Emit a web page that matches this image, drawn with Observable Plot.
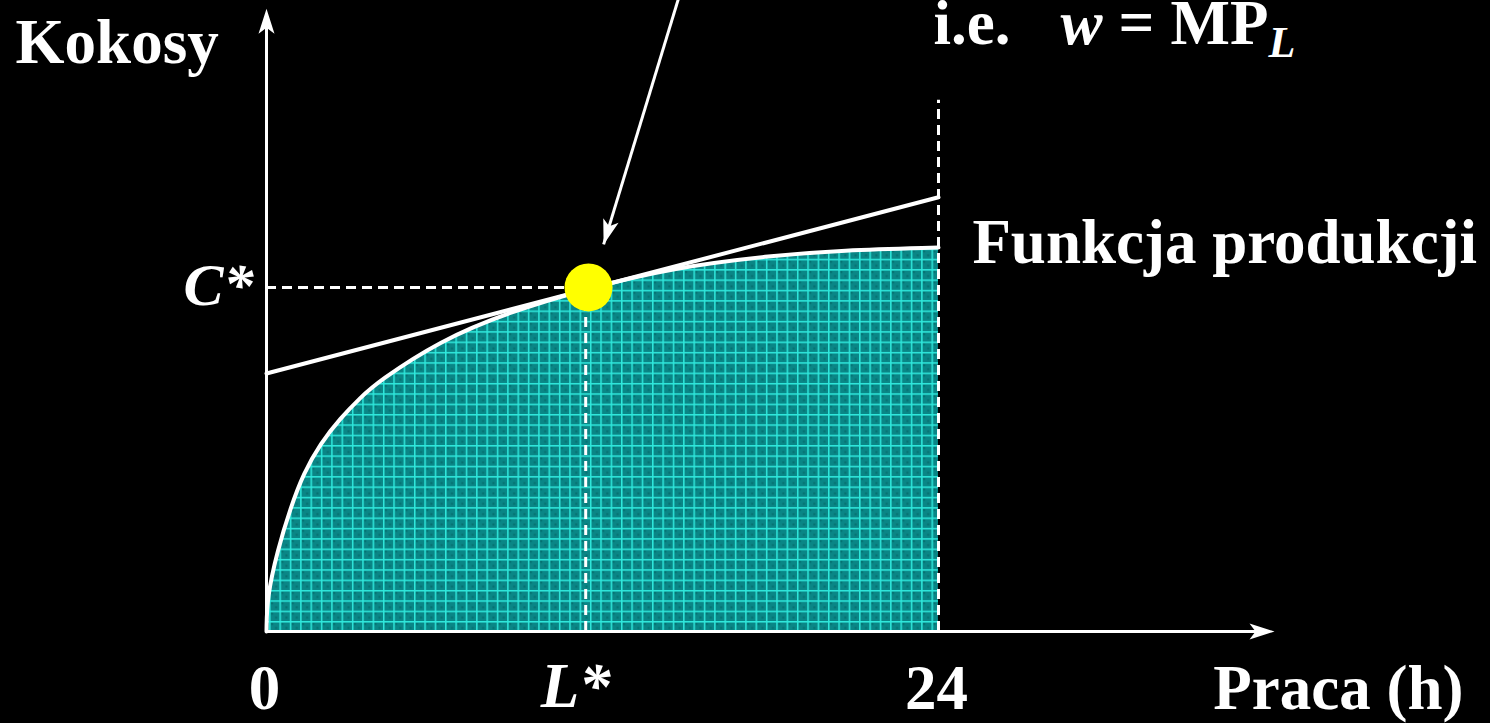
<!DOCTYPE html>
<html>
<head>
<meta charset="utf-8">
<script src="https://cdn.jsdelivr.net/npm/d3@7"></script>
<script src="https://cdn.jsdelivr.net/npm/@observablehq/plot@0.6"></script>
<style>
  html, body { margin: 0; padding: 0; background: #000; }
  #chart svg { display: block; }
</style>
</head>
<body>
<div id="chart"></div>
<script>
// ---- Data ----
const laborHours = [0, 0.02, 0.39, 0.86, 1.32, 1.93, 2.64, 3.36, 3.96, 6.21, 8.61, 11.46, 14.54, 18.11, 20.5, 24];
const coconuts   = [0, 1.00, 2.35, 3.60, 4.59, 5.47, 6.20, 6.80, 7.25, 8.46, 9.27, 9.97, 10.58, 10.93, 11.08, 11.16];
const tangentX = [0, 24];
const tangentY = [7.5, 12.62];
const Lstar = 11.4;
const Cstar = 10;
const maxHours = 24;
const dayLineTop = 15.44;
const xAxisEnd = 36;
const yAxisEnd = 18.1;
const pointerFrom = [14.79, 18.6];
const pointerTo = [12.04, 11.25];

// labels: text, x, y (data units)
const uprightStart = [["Kokosy", -8.96, 16.51], ["i.e.", 23.82, 17.08], ["=", 30.43, 17.08], ["MP", 32.29, 17.08], ["Funkcja produkcji", 25.21, 10.70]];
const uprightMiddle = [["0", -0.07, -2.24], ["24", 23.93, -2.24]];
const uprightEnd = [["Praca (h)", 42.75, -2.24]];
const italicStart = [["w", 28.36, 17.08]];
const italicSub = [["L", 35.79, 16.70]];
const italicEnd = [["C*", -0.46, 9.48]];
const italicMiddle = [["L*", 11.04, -2.18]];

// ---- Build ----
const W = 1490, H = 723;
const mL = 266, mR = 216, mT = 0, mB = 92;
const yTop = 18.34;
const pxX = (W - mL - mR) / xAxisEnd;
const pxY = (H - mT - mB) / yTop;

const curve = laborHours.map((x, i) => ({x, y: coconuts[i]}));
const tangent = tangentX.map((x, i) => ({x, y: tangentY[i]}));
const toObj = arr => arr.map(([t, x, y]) => ({t, x, y}));

const arrowHead = {
  draw(ctx) {
    ctx.moveTo(0, 0);
    ctx.lineTo(8, 25);
    ctx.lineTo(0, 19);
    ctx.lineTo(-8, 25);
    ctx.closePath();
  }
};
const pointerAngle = Math.atan2((pointerTo[0] - pointerFrom[0]) * pxX, -((pointerFrom[1] - pointerTo[1]) * pxY)) * 180 / Math.PI;

const serif = "'Liberation Serif', 'Times New Roman', serif";
const txt = (data, anchor, italic, size) => Plot.text(toObj(data), {
  x: "x", y: "y", text: "t", textAnchor: anchor, lineAnchor: "bottom",
  fill: "white", fontFamily: serif, fontWeight: "bold",
  fontStyle: italic ? "italic" : "normal", fontSize: size
});

const plot = Plot.plot({
  width: W, height: H,
  marginLeft: mL, marginRight: mR, marginTop: mT, marginBottom: mB,
  x: {domain: [0, xAxisEnd], axis: null},
  y: {domain: [0, yTop], axis: null},
  style: {background: "#000", color: "white", overflow: "visible"},
  marks: [
    Plot.areaY(curve, {x: "x", y: "y", fill: "url(#tealgrid)", curve: "basis"}),
    Plot.ruleY([Cstar], {x1: 0, x2: Lstar, stroke: "white", strokeWidth: 3, strokeDasharray: "10,6"}),
    Plot.ruleX([Lstar], {y1: 0, y2: Cstar, stroke: "white", strokeWidth: 3, strokeDasharray: "10,6"}),
    Plot.ruleX([maxHours], {y1: 0, y2: dayLineTop, stroke: "white", strokeWidth: 3, strokeDasharray: "10,6"}),
    Plot.line(tangent, {x: "x", y: "y", stroke: "white", strokeWidth: 4}),
    Plot.line(curve, {x: "x", y: "y", stroke: "white", strokeWidth: 4, curve: "basis"}),
    Plot.ruleY([0], {x1: 0, x2: xAxisEnd - 0.6, stroke: "white", strokeWidth: 3}),
    Plot.ruleX([0], {y1: 0, y2: yAxisEnd - 0.5, stroke: "white", strokeWidth: 3}),
    Plot.dot([{x: xAxisEnd, y: 0}], {x: "x", y: "y", symbol: arrowHead, rotate: 90, fill: "white", stroke: "none"}),
    Plot.dot([{x: 0, y: yAxisEnd}], {x: "x", y: "y", symbol: arrowHead, rotate: 0, fill: "white", stroke: "none"}),
    Plot.link([{x1: pointerFrom[0], y1: pointerFrom[1], x2: pointerTo[0], y2: pointerTo[1]}], {x1: "x1", y1: "y1", x2: "x2", y2: "y2", stroke: "white", strokeWidth: 3}),
    Plot.dot([{x: pointerTo[0], y: pointerTo[1]}], {x: "x", y: "y", symbol: arrowHead, rotate: pointerAngle, fill: "white", stroke: "none"}),
    Plot.dot([{x: Lstar + 0.1, y: Cstar}], {x: "x", y: "y", r: 24, fill: "#ffff00", stroke: "none"}),
    txt(uprightStart, "start", false, 63),
    txt(uprightMiddle, "middle", false, 63),
    txt(uprightEnd, "end", false, 63),
    txt(italicStart, "start", true, 63),
    txt(italicEnd, "end", true, 60),
    txt(italicMiddle, "middle", true, 63),
    txt(italicSub, "start", true, 44)
  ]
});

// pattern for the teal grid fill
const ns = "http://www.w3.org/2000/svg";
const defs = document.createElementNS(ns, "defs");
defs.innerHTML = `
<pattern id="tealgrid" patternUnits="userSpaceOnUse" x="0" y="0" width="10.35" height="10.35">
  <rect width="10.35" height="10.35" fill="#0a8686"/>
  <rect x="2" y="2" width="2" height="2" fill="#067070"/>
  <rect x="6" y="6" width="2" height="2" fill="#067070"/>
  <line x1="0.75" y1="0" x2="0.75" y2="10.35" stroke="#2fe8dc" stroke-width="1.5"/>
  <line x1="0" y1="0.75" x2="10.35" y2="0.75" stroke="#2fe8dc" stroke-width="1.5"/>
</pattern>`;
plot.insertBefore(defs, plot.firstChild);
document.getElementById("chart").appendChild(plot);
</script>
</body>
</html>
